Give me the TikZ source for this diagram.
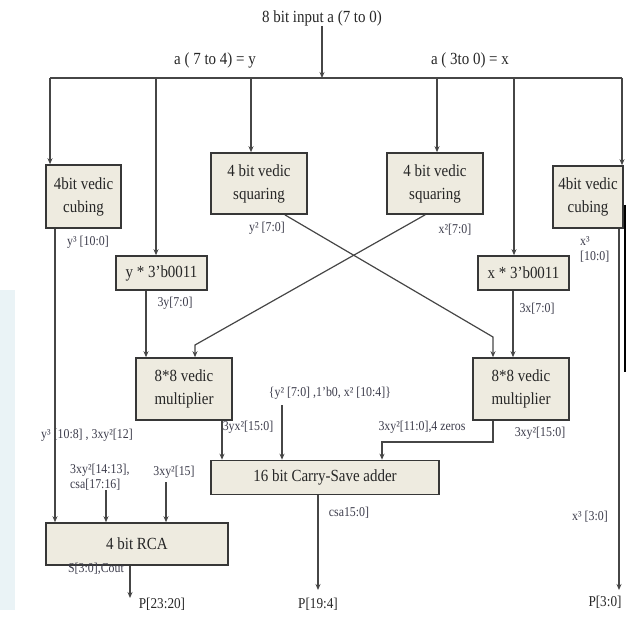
\documentclass[tikz,border=0pt]{standalone}
\usepackage{fontspec}
\setmainfont{Liberation Serif}[FakeStretch=0.88]
\usetikzlibrary{arrows.meta}
\definecolor{boxfill}{RGB}{238,235,224}
\definecolor{boxline}{RGB}{55,55,55}
\definecolor{wirec}{RGB}{70,70,70}
\definecolor{lbl}{RGB}{60,60,75}
\definecolor{haze}{RGB}{234,243,246}
\begin{document}
\begin{tikzpicture}[x=1pt,y=-1pt,
 blk/.style={draw=boxline, line width=1.6pt, fill=boxfill, inner sep=0pt, align=center, font=\fontsize{17}{23}\selectfont, text=black!85},
 wire/.style={draw=wirec, line width=1.2pt},
 arr/.style={wire, -{Stealth[length=6pt,width=5pt]}},
 lab/.style={font=\fontsize{13.5}{15}\selectfont, text=lbl, inner sep=0pt},
 ttl/.style={font=\fontsize{17}{20}\selectfont, inner sep=0pt, text=black!85},
]
\useasboundingbox (0,0) rectangle (626,617);
\fill[haze] (0,290) rectangle (15,610);

% titles
\node[ttl] (title) at (322,18) {8 bit input a (7 to 0)};
\node[ttl] (ly) at (215,60) {a ( 7 to 4) = y};
\node[ttl] (lx) at (470,60) {a ( 3to 0) = x};

% blocks
\node[blk, minimum width=75pt, minimum height=63pt] (cubL) at (83.5,196.5) {4bit vedic\\cubing};
\node[blk, minimum width=96pt, minimum height=61pt] (sqL) at (259,183.5) {4 bit vedic\\squaring};
\node[blk, minimum width=96pt, minimum height=61pt] (sqR) at (435,183.5) {4 bit vedic\\squaring};
\node[blk, minimum width=70pt, minimum height=62pt] (cubR) at (588,197) {4bit vedic\\cubing};
\node[blk, minimum width=91pt, minimum height=34pt] (y3) at (161.5,273) {y * 3'b0011};
\node[blk, minimum width=91pt, minimum height=34pt] (x3) at (523.5,273) {x * 3'b0011};
\node[blk, minimum width=96pt, minimum height=62pt] (mulL) at (184,389) {8*8 vedic\\multiplier};
\node[blk, minimum width=96pt, minimum height=62pt] (mulR) at (521,389) {8*8 vedic\\multiplier};
\node[blk, minimum width=228pt, minimum height=34pt] (csa) at (325,477.5) {16 bit Carry-Save adder};
\node[blk, minimum width=182pt, minimum height=42pt] (rca) at (137,544) {4 bit RCA};

% labels
\node[lab] (ly3) at (88,242) {y³ [10:0]};
\node[lab] (ly2) at (267,228) {y² [7:0]};
\node[lab] (lx2) at (455,230) {x²[7:0]};
\node[lab, anchor=west, align=left] (lx3) at (580,249) {x³\\{[}10:0{]}};
\node[lab] (l3y) at (175,303) {3y[7:0]};
\node[lab] (l3x) at (537,309) {3x[7:0]};
\node[lab] (lyx) at (248,427) {3yx²[15:0]};
\node[lab] (lcat) at (330,393) {\{y² [7:0] ,1'b0, x² [10:4]\}};
\node[lab] (lzer) at (422,427) {3xy²[11:0],4 zeros};
\node[lab] (lxy15) at (540,433) {3xy²[15:0]};
\node[lab] (ly108) at (87,435) {y³ [10:8] , 3xy²[12]};
\node[lab, anchor=north west, align=left] (l1413) at (70,464) {3xy²[14:13],\\csa[17:16]};
\node[lab] (l15) at (174,472) {3xy²[15]};
\node[lab] (lscout) at (96,569) {S[3:0],Cout};
\node[lab] (lcsa) at (349,513) {csa15:0]};
\node[lab] (lx30) at (590,517) {x³ [3:0]};
\node[lab, font=\fontsize{15}{17}\selectfont, text=black!85] (p1) at (162,604) {P[23:20]};
\node[lab, font=\fontsize{15}{17}\selectfont, text=black!85] (p2) at (318,604) {P[19:4]};
\node[lab, font=\fontsize{15}{17}\selectfont, text=black!85] (p3) at (605,602) {P[3:0]};

% bus
\coordinate (bT) at (322,78);
\coordinate (bL) at (50,78);
\coordinate (b2) at (156,78);
\coordinate (b3) at (251,78);
\coordinate (b4) at (437,78);
\coordinate (b5) at (514,78);
\coordinate (bR) at (622,78);
\draw[arr] (title.south) -- (bT);
\draw[wire] (bL) -- (bR);
\draw[arr] (bL) -- (bL |- cubL.north);
\draw[arr] (b2) -- (b2 |- y3.north);
\draw[arr] (b3) -- (b3 |- sqL.north);
\draw[arr] (b4) -- (b4 |- sqR.north);
\draw[arr] (b5) -- (b5 |- x3.north);
\draw[arr] (bR) -- (bR |- cubR.north);

% crossing squaring outputs
\coordinate (c1) at (493,337);
\coordinate (c2) at (195,345);
\draw[arr] ([xshift=-23pt]sqL.south east) -- (c1) -- (c1 |- mulR.north);
\draw[arr] ([xshift=39pt]sqR.south west) -- (c2) -- (c2 |- mulL.north);

% times-3 outputs
\path ([xshift=-15.5pt]y3.south) coordinate (y3o);
\draw[arr] (y3o) -- (y3o |- mulL.north);
\path ([xshift=-10.5pt]x3.south) coordinate (x3o);
\draw[arr] (x3o) -- (x3o |- mulR.north);

% cubing outputs
\path ([xshift=-28.5pt]cubL.south) coordinate (cLo);
\draw[arr] (cLo) -- (cLo |- rca.north);
\path ([xshift=31pt]cubR.south) coordinate (cRo);
\coordinate (e3) at (619,590);
\draw[arr] (cRo) -- (e3);

% multiplier outputs into CSA
\path ([xshift=38pt]mulL.south) coordinate (mLo);
\draw[arr] (mLo) -- (mLo |- csa.north);
\coordinate (catS) at (282,405);
\draw[arr] (catS) -- (catS |- csa.north);
\path ([xshift=-28pt]mulR.south) coordinate (mRo);
\coordinate (k1) at (493,442);
\coordinate (k2) at (382,442);
\draw[arr] (mRo) -- (k1) -- (k2) -- (k2 |- csa.north);

% inputs into RCA
\coordinate (a1) at (106,490);
\draw[arr] (a1) -- (a1 |- rca.north);
\coordinate (a2) at (166,482);
\draw[arr] (a2) -- (a2 |- rca.north);

% outputs
\path ([xshift=-7pt]rca.south) coordinate (ro);
\coordinate (e1) at (130,598);
\draw[arr] (ro) -- (e1);
\path ([xshift=-7pt]csa.south) coordinate (co);
\coordinate (e2) at (318,590);
\draw[arr] (co) -- (e2);

% edge line at right
\draw[black, line width=2pt] (625,205) -- (625,372);
\end{tikzpicture}
\end{document}
